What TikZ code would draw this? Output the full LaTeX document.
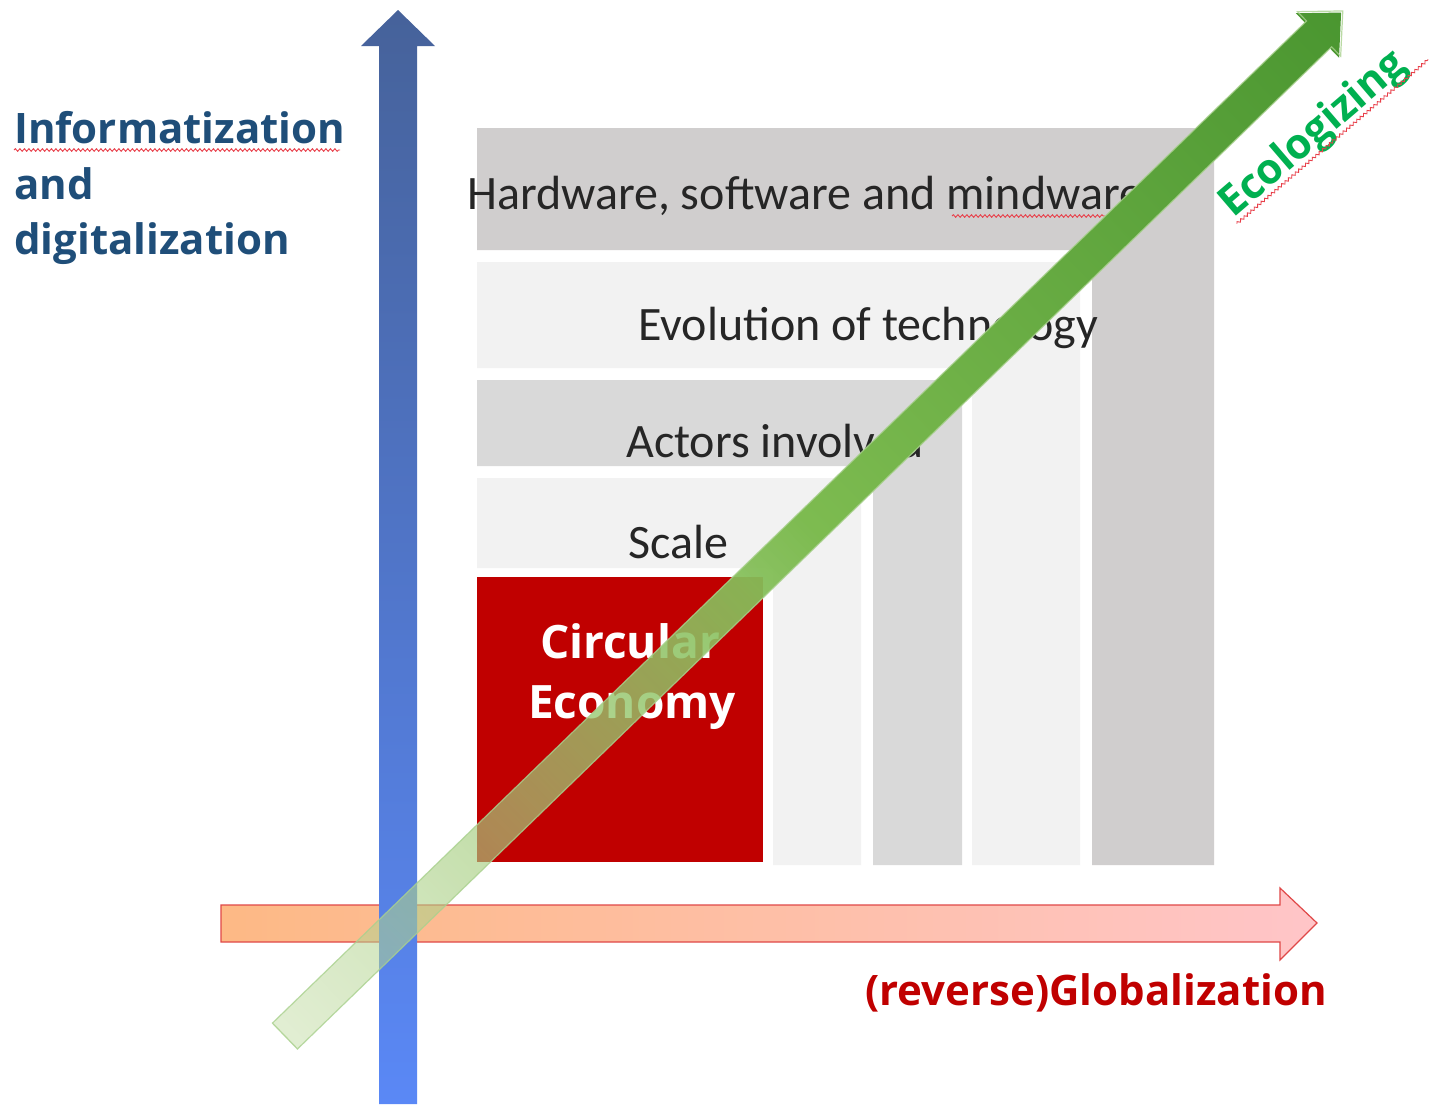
\documentclass[tikz,border=0pt]{standalone}
\usepackage{fontspec}
\setmainfont{Carlito}
\newfontfamily\hdf{Open Sans}
\usetikzlibrary{fadings,decorations.pathmorphing}
\definecolor{hwgray}{HTML}{D0CECE}
\definecolor{lgray}{HTML}{F2F2F2}
\definecolor{mgray}{HTML}{D9D9D9}
\definecolor{cered}{HTML}{C00000}
\definecolor{bluetop}{HTML}{46629A}
\definecolor{bluebot}{HTML}{5A88F6}
\definecolor{infoblue}{HTML}{1F4E79}
\definecolor{ecogreen}{HTML}{00B050}
\definecolor{orl}{HTML}{FDB985}
\definecolor{orr}{HTML}{FFC5C8}
\definecolor{orborder}{HTML}{E04848}
\definecolor{gA}{HTML}{BFDA9E}
\definecolor{gB}{HTML}{7DBB50}
\definecolor{gC}{HTML}{4A9630}
\definecolor{gedge}{HTML}{A9D18E}
\definecolor{squig}{HTML}{E8404A}
\tikzfading[name=gfade, left color=transparent!55, right color=transparent!0, middle color=transparent!0]
\tikzset{
  graylabel/.style={anchor=base west, inner sep=0, font=\fontsize{48}{58}\selectfont, text=black!85},
  boldlabel/.style={inner sep=0, font=\hdf\bfseries\fontsize{42}{50}\selectfont},
  squiggle/.style={decorate, decoration={snake, amplitude=1.3pt, segment length=4.5pt}, draw=squig, line width=0.9pt},
}
\begin{document}
\begin{tikzpicture}[x=1pt,y=-1pt]
\useasboundingbox[fill=white] (0,0) rectangle (1432,1104);
% nested L-shaped bands
\fill[hwgray] (477,128) -- (1214,128) -- (1214,865) -- (1092,865) -- (1092,250) -- (477,250) -- cycle;
\fill[lgray] (477,262) -- (1080,262) -- (1080,865) -- (972,865) -- (972,368) -- (477,368) -- cycle;
\fill[mgray] (477,380) -- (962,380) -- (962,865) -- (873,865) -- (873,466) -- (477,466) -- cycle;
\fill[lgray] (477,478) -- (861,478) -- (861,865) -- (773,865) -- (773,568) -- (477,568) -- cycle;
\fill[cered] (477,577) rectangle (763,862);
% band labels
\node[graylabel] (hw) at (467,209) {Hardware, software and mindware};
\node[graylabel] (evo) at (638,340) {Evolution of technology};
\node[graylabel] (act) at (626,457) {Actors involved};
\node[graylabel] (scl) at (628,558) {Scale};
\node[boldlabel, text=white, anchor=base, font=\hdf\bfseries\fontsize{46}{54}\selectfont] (ce1) at (630,658) {Circular};
\node[boldlabel, text=white, anchor=base, font=\hdf\bfseries\fontsize{46}{54}\selectfont] (ce2) at (632,718) {Economy};
% axis labels
\node[boldlabel, text=infoblue, anchor=base west] (inf1) at (14,143) {Informatization};
\node[boldlabel, text=infoblue, anchor=base west] (inf2) at (14,199) {and};
\node[boldlabel, text=infoblue, anchor=base west] (inf3) at (14,254) {digitalization};
\node[boldlabel, text=cered, anchor=base west] (glob) at (865,1005) {(reverse)Globalization};
% squiggles
\draw[squiggle] (14,150) -- (340,150);
\draw[squiggle] (952,216) -- (1105,216);
% orange horizontal arrow
\shadedraw[left color=orl, right color=orr, draw=orborder, line width=1.2pt]
  (221,905) -- (1280,905) -- (1280,888) -- (1317,923) -- (1280,960) -- (1280,942) -- (221,942) -- cycle;
% blue vertical arrow
\shade[top color=bluetop, bottom color=bluebot]
  (379,1104) -- (379,46) -- (361,46) -- (398,10) -- (435,46) -- (417,46) -- (417,1104) -- cycle;
% green diagonal arrow
\begin{scope}[transform canvas={shift={(285,1036)}, rotate=44.1}]
  \shade[left color=gA, right color=gC, middle color=gB, path fading=gfade]
    (0,-18) -- (1440,-18) -- (1440,-31) -- (1473,0) -- (1440,31) -- (1440,18) -- (0,18) -- cycle;
  \draw[gedge, line width=1.2pt, opacity=0.8]
    (0,-18) -- (1440,-18) -- (1440,-31) -- (1473,0) -- (1440,31) -- (1440,18) -- (0,18) -- cycle;
\end{scope}
% Ecologizing label
\node[boldlabel, text=ecogreen, anchor=base west, rotate=40.6] (eco) at (1233,219) {Ecologizing};
\begin{scope}[shift={(1233,219)}, rotate=40.6]
  \draw[squiggle] (0,6) -- (252,6);
\end{scope}
\end{tikzpicture}
\end{document}
